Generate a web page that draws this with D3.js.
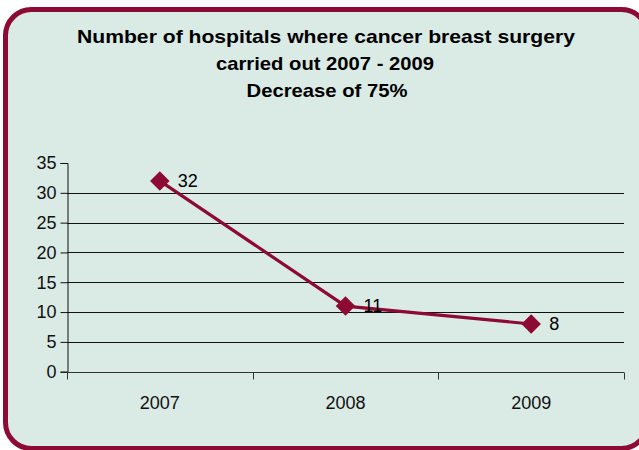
<!DOCTYPE html>
<html><head><meta charset="utf-8">
<script src="https://cdn.jsdelivr.net/npm/d3@7"></script>
<style>html,body{margin:0;padding:0;background:#fff;overflow:hidden;}svg{display:block;}</style>
</head><body>
<script>
const categories = ["2007", "2008", "2009"];
const values = [32, 11, 8];
const yTicks = [0, 5, 10, 15, 20, 25, 30, 35];
const titleLines = ["Number of hospitals where cancer breast surgery", "carried out 2007 - 2009", "Decrease of 75%"];

const W = 639, H = 450;
const svg = d3.select("body").append("svg").attr("width", W).attr("height", H);
const red = "#8c0a33";

svg.append("rect").attr("x", 5.5).attr("y", 9.5).attr("width", 642).attr("height", 439)
  .attr("rx", 26).attr("ry", 26).attr("fill", "#daeae4").attr("stroke", red).attr("stroke-width", 5);

const titleWidths = [498, 218, 161];
const titleCx = [326, 325, 327];
const titleY = [43, 70, 97];
const title = svg.append("g")
  .attr("font-family", "Liberation Sans, Arial, sans-serif").attr("font-weight", "bold")
  .attr("font-size", 19).attr("fill", "#000");
titleLines.forEach((t, i) => {
  title.append("text").attr("x", titleCx[i]).attr("y", titleY[i]).attr("text-anchor", "middle")
    .attr("textLength", titleWidths[i]).attr("lengthAdjust", "spacingAndGlyphs").text(t);
});

const x = d3.scaleBand().domain(categories).range([67, 624]);
const y = d3.scaleLinear().domain([0, 35]).range([371.7, 163]);

const g = svg.append("g");
g.selectAll(".grid").data(yTicks.filter(d => d > 0 && d < 35)).join("line")
  .attr("x1", 67).attr("x2", 624).attr("y1", d => Math.round(y(d)) + 0.5).attr("y2", d => Math.round(y(d)) + 0.5)
  .attr("stroke", "#111").attr("stroke-width", 1);

const yAxis = d3.axisLeft(y).tickValues(yTicks).tickSize(7).tickPadding(4);
const ya = svg.append("g").attr("transform", "translate(67.5,0)").call(yAxis);
ya.select(".domain").attr("stroke", "#111");
ya.selectAll(".tick line").attr("stroke", "#111");
ya.selectAll("text").attr("font-family", "Liberation Sans Narrow, Arial Narrow, sans-serif").attr("font-size", 18).attr("fill", "#111");

const xAxis = d3.axisBottom(x).tickSize(0).tickPadding(24);
const xa = svg.append("g").attr("transform", `translate(0,${Math.round(y(0)) + 0.5})`).call(xAxis);
xa.select(".domain").attr("stroke", "#333").attr("d", `M67,0H624`);
xa.selectAll("text").attr("font-family", "Liberation Sans Narrow, Arial Narrow, sans-serif").attr("font-size", 18).attr("fill", "#111");
const bounds = categories.map(c => x(c)).concat([x.range()[1]]);
xa.selectAll(".btick").data(bounds).join("line")
  .attr("x1", d => Math.round(d) + 0.5).attr("x2", d => Math.round(d) + 0.5).attr("y1", 0).attr("y2", 7).attr("stroke", "#333");

const pts = categories.map((c, i) => ({c, v: values[i]}));
const cx = d => x(d.c) + x.bandwidth() / 2;
svg.append("path").datum(pts)
  .attr("d", d3.line().x(cx).y(d => y(d.v)))
  .attr("fill", "none").attr("stroke", red).attr("stroke-width", 3.2);

svg.selectAll(".mk").data(pts).join("path")
  .attr("d", d3.symbol().type(d3.symbolSquare).size(190))
  .attr("transform", d => `translate(${cx(d)},${y(d.v)}) rotate(45)`)
  .attr("fill", red);

svg.selectAll(".lbl").data(pts).join("text")
  .attr("x", d => cx(d) + 18).attr("y", d => y(d.v) + 6)
  .attr("font-family", "Liberation Sans, Arial, sans-serif").attr("font-size", 18).attr("fill", "#000")
  .text(d => d.v);
</script>
</body></html>
